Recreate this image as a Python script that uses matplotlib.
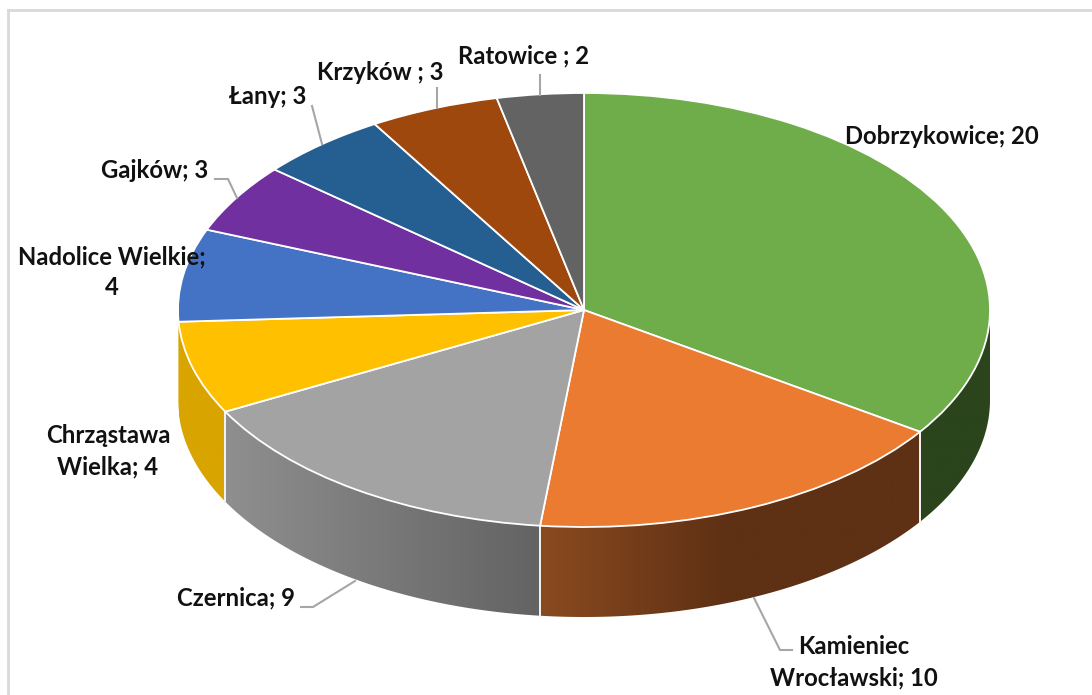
import numpy as np
import matplotlib
matplotlib.use("Agg")
import matplotlib.pyplot as plt
from matplotlib.colors import to_rgb
from matplotlib.patches import Polygon

categories = ["Dobrzykowice", "Kamieniec\nWrocławski", "Czernica", "Chrząstawa\nWielka",
              "Nadolice Wielkie;\n", "Gajków", "Łany", "Krzyków ", "Ratowice "]
values = [20, 10, 9, 4, 4, 3, 3, 3, 2]
top_colors = ["#6FAC4A", "#EA7B30", "#A3A3A3", "#FFC000", "#4472C4", "#7030A0", "#255E91", "#9E480E", "#636363"]
wall_left = ["#2B441C", "#8A4A20", "#8F8F8F", "#D9A400", "#D9A400", "#4B2070", "#1A4060", "#6E320A", "#444444"]
wall_right = ["#2B441C", "#5E3014", "#636363", "#D9A400", "#D9A400", "#4B2070", "#1A4060", "#6E320A", "#444444"]
wall_ramp = [1, 0.5, 1, 1, 1, 1, 1, 1, 1]

W, H = 1092, 695
CX, CY, RX, RY, DEPTH = 584, 310, 406, 217, 90

fig = plt.figure(figsize=(W / 100, H / 100), dpi=100, facecolor="white")
ax = fig.add_axes([0, 0, 1, 1])

def px(x, y):
    return (x - CX) / RX, (CY - y) / RY

depth = DEPTH / RY
angles = 90 - np.cumsum([0] + values) / sum(values) * 360

# side walls: front half only, each a horizontal gradient clipped to its outline
for i in range(len(values)):
    th = np.radians(np.linspace(angles[i + 1], angles[i], 200))
    th = th[np.sin(th) <= 0.001]
    if len(th) < 2:
        continue
    x, y = np.cos(th), np.sin(th)
    lo, hi = x.min(), x.max()
    f = np.clip(np.linspace(0, 1, 256) / wall_ramp[i], 0, 1)[:, None]
    c0, c1 = np.array(to_rgb(wall_left[i])), np.array(to_rgb(wall_right[i]))
    grad = (c0 + (c1 - c0) * f)[None, :, :]
    im = ax.imshow(grad, extent=[lo, hi, y.min() - depth, y.max()], aspect="auto",
                   interpolation="bilinear", zorder=1)
    outline = np.vstack([np.c_[x, y], np.c_[x[::-1], y[::-1] - depth]])
    im.set_clip_path(Polygon(outline, closed=True, transform=ax.transData))
    for k in (0, -1):
        if abs(x[k]) < 0.97:
            ax.plot([x[k], x[k]], [y[k], y[k] - depth], color="#F2F2F2", lw=1.3, zorder=2)

wedges, _ = ax.pie(values, colors=top_colors, startangle=90, counterclock=False, radius=1,
                   center=(0, 0), wedgeprops=dict(edgecolor="white", linewidth=1.3, zorder=3))
ax.set_aspect("auto")
ax.set_xlim(-CX / RX, (W - CX) / RX)
ax.set_ylim((CY - H) / RY, CY / RY)
ax.axis("off")

# frame
for (x0, y0, x1, y1) in [(7.5, 9.5, 1092, 9.5), (7.5, 9.5, 7.5, 695)]:
    p, q = px(x0, y0), px(x1, y1)
    ax.plot([p[0], q[0]], [p[1], q[1]], color="#D9D9D9", lw=2, zorder=0, clip_on=False)

# leader lines
leaders = [
    [(754, 598), (780, 650), (792, 650)],
    [(355, 581), (313, 607), (301, 607)],
    [(437, 108), (437, 88)],
    [(312, 106), (322, 144)],
    [(237, 198), (228, 179), (215, 179)],
    [(540, 95), (540, 75)],
]
for pts in leaders:
    xy = np.array([px(*p) for p in pts])
    ax.plot(xy[:, 0], xy[:, 1], color="#A6A6A6", lw=1.5, zorder=4)

label_xy = [(942, 136), (854, 662), (236, 598), (108, 451), (112, 272),
            (155, 171), (268, 96), (380, 73), (524, 56)]
for name, v, (lx, ly) in zip(categories, values, label_xy):
    s = f"{name}{v}" if name.endswith(";\n") else f"{name}; {v}"
    tx, ty = px(lx, ly)
    ax.text(tx, ty, s, ha="center", va="center", fontsize=17.2, fontweight="bold",
            family=["Lato", "DejaVu Sans"], color="#111111", linespacing=1.42, zorder=5)

fig.savefig("out.png", dpi=100, facecolor="white")
